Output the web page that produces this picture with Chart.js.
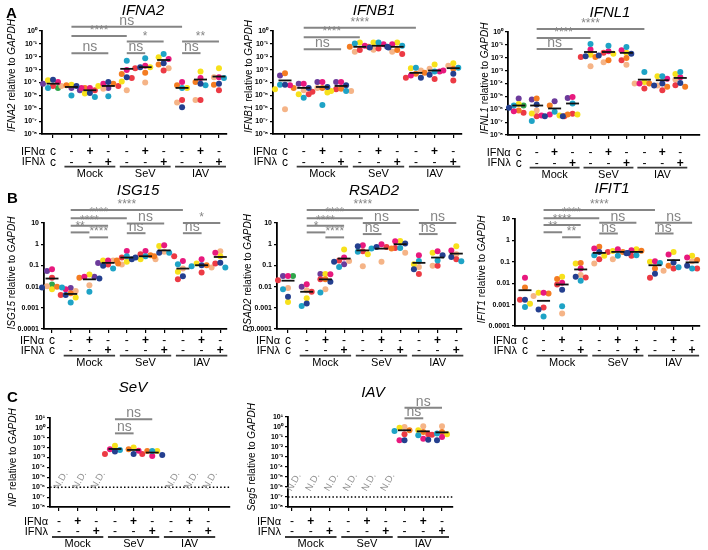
<!DOCTYPE html>
<html>
<head>
<meta charset="utf-8">
<script src="https://cdn.jsdelivr.net/npm/chart.js@4.4.1/dist/chart.umd.min.js"></script>
<style>
  body { margin: 0; background: #fff; width: 708px; height: 550px; position: relative; overflow: hidden; }
  .panel { position: absolute; }
</style>
</head>
<body>
<script>
var N = null;
var FAM = '"Liberation Sans", Arial, sans-serif';

// donors: navy, teal, magenta, orange, yellow, red, peach, purple, green
var donorColors = ['#243f8f', '#1ea3c6', '#e8197e', '#f47c22', '#f7e11b', '#ec3a44', '#f5b487', '#6c3b9b', '#2fa54b'];

// tick labels
var decadeTicks8 = [1, 1e-1, 1e-2, 1e-3, 1e-4, 1e-5, 1e-6, 1e-7, 1e-8];
var decadeLabels8 = ['10⁰', '10⁻¹', '10⁻²', '10⁻³', '10⁻⁴', '10⁻⁵', '10⁻⁶', '10⁻⁷', '10⁻⁸'];
var plainTicks = [10, 1, 0.1, 0.01, 0.001, 0.0001];
var plainLabels = ['10', '1', '0.1', '0.01', '0.001', '0.0001'];
var decadeTicks9 = [10, 1, 1e-1, 1e-2, 1e-3, 1e-4, 1e-5, 1e-6, 1e-7, 1e-8];
var decadeLabels9 = ['10¹', '10⁰', '10⁻¹', '10⁻²', '10⁻³', '10⁻⁴', '10⁻⁵', '10⁻⁶', '10⁻⁷', '10⁻⁸'];

// treatment rows under the axis
var alphaRowAB = ['c', '-', '+', '-', '-', '+', '-', '-', '+', '-'];
var lambdaRowAB = ['c', '-', '-', '+', '-', '-', '+', '-', '-', '+'];
var alphaRowC = ['-', '+', '-', '-', '+', '-', '-', '+', '-'];
var lambdaRowC = ['-', '-', '+', '-', '-', '+', '-', '-', '+'];
var groupsAB = [['Mock', 1, 3], ['SeV', 4, 6], ['IAV', 7, 9]];
var groupsC = [['Mock', 0, 2], ['SeV', 3, 5], ['IAV', 6, 8]];

// values per column, donor order as in donorColors
var ifna2Values = [
  [1.6e-4, 3.8e-5, 1.1e-4, N, 1.5e-4, 5.4e-5, N, 8.1e-5, 3.8e-5],
  [5.4e-5, 1.0e-5, 3.8e-5, 6.0e-5, 6.8e-5, N, 5.4e-5, 3.8e-5, N],
  [1.5e-5, 7.6e-6, 3.8e-5, 3.8e-5, 1.4e-5, 2.5e-5, N, 2.5e-5, N],
  [1.1e-4, 8.7e-6, 8.1e-5, 8.1e-5, 5.4e-5, 5.4e-5, 3.3e-5, 3.8e-5, N],
  [2.6e-4, 5.0e-3, 9.5e-4, 4.5e-4, 1.2e-4, 2.2e-4, 2.5e-5, N, N],
  [1.5e-3, 7.6e-3, 2.0e-3, 5.6e-4, 1.5e-3, 1.3e-3, 1.0e-4, N, N],
  [3.1e-3, 1.6e-2, 6.7e-3, 2.5e-3, 9.0e-3, 8.5e-4, 1.3e-3, N, N],
  [1.2e-6, 3.8e-5, 1.1e-4, 6.0e-5, 3.8e-5, 4.3e-6, 2.8e-6, N, N],
  [8.1e-5, 6.0e-5, 2.2e-4, 1.1e-4, 7.1e-4, 4.3e-6, 4.3e-6, N, N],
  [8.1e-5, 2.2e-4, 2.6e-4, 6.8e-5, 1.3e-3, 2.5e-5, 2.6e-4, N, N]
];
var ifna2Medians = [8.1e-5, 4.5e-5, 2.5e-5, 5.4e-5, 1.15e-3, 1.55e-3, 5.6e-3, 3.8e-5, 1.7e-4, 2.9e-4];
var ifna2Brackets = [[1, 7, 2.1, 'ns'], [1, 4, 0.41, '****'], [4, 6, 0.15, '*'], [7, 9, 0.15, '**'],
  [1, 3, 0.019, 'ns'], [4, 5, 0.019, 'ns'], [7, 8, 0.019, 'ns']];

var ifnb1Values = [
  [6.8e-5, 6.8e-5, 6.0e-5, 5.3e-4, 3.0e-5, N, 8.2e-7, 3.5e-4, N],
  [3.8e-5, 6.4e-6, 8.1e-5, 3.8e-5, 1.2e-5, 1.2e-5, 2.5e-5, 8.1e-5, N],
  [4.5e-5, 1.8e-6, 1.1e-4, 3.8e-5, 1.7e-5, 1.9e-5, 3.8e-5, 1.1e-4, N],
  [6.0e-5, 2.2e-5, 1.1e-4, 3.3e-5, 2.2e-5, 3.0e-5, 2.2e-5, 1.1e-4, N],
  [0.053, 0.107, 0.071, 0.059, 0.126, 0.033, 0.025, N, N],
  [0.053, 0.126, 0.095, 0.059, 0.126, 0.044, 0.035, N, N],
  [0.059, 0.071, 0.095, 0.033, 0.126, 0.016, 0.025, N, N],
  [2.3e-4, 1.4e-3, 3.5e-4, 4.7e-4, 1.3e-3, 2.3e-4, 8.5e-4, N, N],
  [4.0e-4, 7.1e-4, 7.1e-4, 5.6e-4, 2.5e-3, 1.9e-4, 1.15e-3, N, N],
  [4.7e-4, 1.4e-3, 8.5e-4, 1.15e-3, 3.1e-3, 1.45e-4, 2.0e-3, N, N]
];
var ifnb1Medians = [1.45e-4, 3.8e-5, 4.5e-5, 5.4e-5, 0.059, 0.071, 0.059, 5.6e-4, 8.5e-4, 1.3e-3];
var ifnb1Brackets = [[1, 7, 1.8, '****'], [1, 4, 0.32, '****'], [1, 3, 0.038, 'ns']];

var ifnl1Values = [
  [1.3e-6, 1.95e-6, 7.1e-7, 8.0e-7, 2.6e-6, 5.3e-7, N, 6.8e-6, 1.95e-6],
  [2.3e-6, 1.2e-7, 3.3e-7, 6.8e-6, 4.7e-7, 2.9e-7, 8.0e-7, 5.7e-6, N],
  [2.9e-7, 6.3e-7, 3.9e-7, 1.95e-6, 3.3e-7, 2.9e-7, N, 4.2e-6, N],
  [2.9e-7, 2.8e-6, 9.1e-6, 3.9e-7, 3.9e-7, 4.4e-7, N, 7.6e-6, N],
  [0.013, 0.117, 0.043, 0.0115, 0.017, 0.0115, 2.2e-3, N, N],
  [0.015, 0.087, 0.032, 6.3e-3, 0.02, 0.024, 4.5e-3, N, N],
  [0.02, 0.069, 0.038, 9.6e-3, 0.024, 6.3e-3, 2.9e-3, N, N],
  [6.9e-5, 7.9e-4, 1.0e-4, 1.0e-4, 1.3e-4, 4.1e-5, 1.0e-4, N, N],
  [1.0e-4, 3.7e-4, 2.3e-4, 5.5e-5, 3.7e-4, 3.0e-5, 6.9e-5, N, N],
  [1.1e-4, 7.9e-4, 3.1e-4, 5.5e-5, 5.5e-4, 7.4e-5, 2.0e-4, N, N]
];
var ifnl1Medians = [1.95e-6, 1.95e-6, 1.15e-6, 2.8e-6, 0.028, 0.028, 0.024, 2.0e-4, 1.8e-4, 2.7e-4];
var ifnl1Brackets = [[1, 7, 1.7, '****'], [1, 4, 0.34, '****'], [1, 3, 0.048, 'ns']];

var isg15Values = [
  [9.1e-3, 9.1e-3, 0.065, 9.8e-3, 7.6e-3, 0.026, 0.0105, 0.055, 0.0126],
  [4.0e-3, 1.8e-3, 7.6e-3, 4.8e-3, 3.1e-3, 4.0e-3, 6.2e-3, 8.7e-3, N],
  [0.024, 5.7e-3, 0.029, 0.026, 0.037, N, 0.0117, 0.029, N],
  [0.095, 0.071, 0.17, 0.123, 0.17, 0.11, 0.17, 0.13, N],
  [0.195, 0.27, 0.48, 0.17, 0.147, 0.235, 0.11, N, N],
  [0.235, 0.27, 0.48, 0.3, 0.195, 0.34, 0.195, N, N],
  [0.39, 0.39, 0.89, 0.27, 0.83, 0.27, 0.44, N, N],
  [0.031, 0.114, 0.162, N, 0.05, 0.022, 0.071, N, N],
  [0.102, 0.091, 0.195, 0.102, 0.123, 0.046, 0.079, N, N],
  [0.132, 0.079, 0.4, N, 0.27, 0.123, 0.47, N, N]
];
var isg15Medians = [0.024, 4.5e-3, 0.022, 0.132, 0.235, 0.27, 0.51, 0.071, 0.102, 0.25];
var isg15Brackets = [[1, 7, 41, '****'], [1, 4, 16.6, '****'], [1, 3, 7.4, '****'], [1, 2, 3.6, '**'],
  [2, 3, 2.1, '****'], [4, 6, 9.6, 'ns'], [4, 5, 3.3, 'ns'], [7, 9, 10, '*'], [7, 8, 3.3, 'ns']];

var rsad2Values = [
  [3.3e-3, 7.4e-3, 0.032, N, 1.9e-3, 0.02, 8.7e-3, 0.032, 0.032],
  [1.6e-3, 1.2e-3, 0.013, N, 2.8e-3, 5.7e-3, 6.7e-3, 9.8e-3, N],
  [0.017, 5.2e-3, 0.038, 0.022, 0.039, 0.022, 7.4e-3, 0.039, N],
  [0.147, 0.085, 0.235, N, 0.56, 0.17, 0.162, 0.114, N],
  [0.8, 0.44, 0.89, N, 0.34, 0.47, 0.091, N, N],
  [0.74, 0.62, 1.0, 0.62, N, 0.74, 0.147, N, N],
  [1.07, 0.66, 1.38, N, 1.42, 0.66, 0.39, N, N],
  [0.065, 0.162, 0.3, N, 0.114, 0.039, 0.085, N, N],
  [0.3, 0.17, 0.47, N, 0.39, 0.095, 0.095, N, N],
  [0.25, 0.158, 0.51, N, 0.8, 0.195, 0.34, N, N]
];
var rsad2Medians = [0.019, 5.7e-3, 0.022, 0.21, 0.51, 0.62, 1.0, 0.132, 0.235, 0.36];
var rsad2Brackets = [[1, 7, 41, '****'], [1, 4, 16.6, '****'], [1, 3, 7.4, '****'], [1, 2, 3.6, '*'],
  [2, 3, 2.1, '****'], [4, 6, 10, 'ns'], [4, 5, 3.0, 'ns'], [7, 9, 10, 'ns'], [7, 8, 3.0, 'ns']];

var ifit1Values = [
  [1.7e-3, 7.8e-4, 0.0178, 6.3e-3, 1.1e-3, 1.7e-3, N, N, N],
  [5.9e-4, 2.8e-4, 3.6e-3, 3.3e-3, 3.6e-3, 7.3e-4, 2.5e-3, N, N],
  [5.0e-3, 8.3e-4, 0.0105, 0.0158, 0.02, 8.7e-3, 3.8e-4, N, N],
  [0.02, 0.013, 0.049, 0.089, 0.083, 0.0185, 0.024, N, N],
  [0.29, 0.2, 0.42, 0.5, 0.19, 0.133, 0.083, N, N],
  [0.26, 0.19, 0.39, 0.29, 0.32, 0.29, 0.133, N, N],
  [0.25, 0.2, 0.35, 0.33, 0.39, 0.19, N, N, N],
  [0.028, 0.089, 0.107, 0.049, 0.1, 0.0178, N, N, N],
  [0.094, 0.055, 0.22, 0.065, 0.29, 0.049, 0.038, N, N],
  [0.065, 0.049, 0.158, 0.12, 0.19, 0.049, 0.107, N, N]
];
var ifit1Medians = [4.7e-3, 1.5e-3, 8.7e-3, 0.044, 0.26, 0.29, 0.29, 0.069, 0.12, 0.094];
var ifit1Brackets = [[1, 7, 26, '****'], [1, 4, 10.8, '****'], [1, 3, 5.2, '****'], [1, 2, 2.4, '**'],
  [2, 3, 1.4, '**'], [4, 6, 6.7, 'ns'], [4, 5, 2.1, 'ns'], [7, 9, 6.7, 'ns'], [7, 8, 2.1, 'ns']];

var npValues = [
  [N, N, N, N, N, N, N, N, N],
  [N, N, N, N, N, N, N, N, N],
  [N, N, N, N, N, N, N, N, N],
  [4.0e-3, 5.9e-3, 6.9e-3, N, 0.016, 2.3e-3, N, N, N],
  [2.3e-3, N, 5.0e-3, 6.9e-3, 0.0102, N, N, N, N],
  [1.8e-3, 4.7e-3, 1.45e-3, 4.7e-3, 4.7e-3, 2.3e-3, N, N, N],
  [N, N, N, N, N, N, N, N, N],
  [N, N, N, N, N, N, N, N, N],
  [N, N, N, N, N, N, N, N, N]
];
var npMedians = [N, N, N, 7.4e-3, 5.9e-3, 3.2e-3, N, N, N];
var npBrackets = [[3, 5, 7.4, 'ns'], [3, 4, 0.28, 'ns']];
var npNotDetected = [0, 1, 2, 6, 7, 8];

var seg5Values = [
  [N, N, N, N, N, N, N, N, N],
  [N, N, N, N, N, N, N, N, N],
  [N, N, N, N, N, N, N, N, N],
  [N, N, N, N, N, N, N, N, N],
  [N, N, N, N, N, N, N, N, N],
  [N, N, N, N, N, N, N, N, N],
  [0.047, 0.4, 0.047, 0.47, 0.85, 0.19, 1.0, N, N],
  [0.054, 0.148, 0.068, 0.32, 0.47, 0.19, 1.17, N, N],
  [0.047, 0.22, 0.1, 0.32, 0.19, 0.17, 1.17, N, N]
];
var seg5Medians = [N, N, N, N, N, N, 0.47, 0.37, 0.29];
var seg5Brackets = [[6, 8, 85, 'ns'], [6, 7, 7.4, 'ns']];
var seg5NotDetected = [0, 1, 2, 3, 4, 5];

// panel layout (page pixels)
var panels = [
  { box: [0, 0, 236, 180], axisX: 42, top: 31, bottom: 134, right: 227, c0: 53, step: 18.44,
    title: 'IFNA2', titleX: 143, titleY: 15, gene: 'IFNA2', yTitleX: 12, yTitleShift: -7, letter: ['A', 6, 18],
    values: ifna2Values, medians: ifna2Medians, brackets: ifna2Brackets,
    ticks: decadeTicks8, labels: decadeLabels8, rows: [alphaRowAB, lambdaRowAB], groups: groupsAB, rowOff: [17.7, 28.3, 32.7, 40] },
  { box: [236, 0, 236, 180], axisX: 273, top: 31, bottom: 134, right: 462, c0: 285, step: 18.7,
    title: 'IFNB1', titleX: 374, titleY: 15, gene: 'IFNB1', yTitleX: 249, yTitleShift: -6,
    values: ifnb1Values, medians: ifnb1Medians, brackets: ifnb1Brackets,
    ticks: decadeTicks8, labels: decadeLabels8, rows: [alphaRowAB, lambdaRowAB], groups: groupsAB, rowOff: [17.7, 28.3, 32.7, 40] },
  { box: [472, 0, 236, 180], axisX: 508, top: 32, bottom: 135, right: 705, c0: 519, step: 18.45,
    title: 'IFNL1', titleX: 610, titleY: 17, gene: 'IFNL1', yTitleX: 485, yTitleShift: -5,
    values: ifnl1Values, medians: ifnl1Medians, brackets: ifnl1Brackets,
    ticks: decadeTicks8, labels: decadeLabels8, rows: [alphaRowAB, lambdaRowAB], groups: groupsAB, rowOff: [17.7, 28.3, 32.7, 40] },
  { box: [0, 180, 236, 190], axisX: 44, top: 223, bottom: 329, right: 227, c0: 52, step: 18.7,
    title: 'ISG15', titleX: 138, titleY: 195, gene: 'ISG15', yTitleX: 12, yTitleShift: -3, letter: ['B', 7, 203],
    values: isg15Values, medians: isg15Medians, brackets: isg15Brackets,
    ticks: plainTicks, labels: plainLabels, rows: [alphaRowAB, lambdaRowAB], groups: groupsAB, rowOff: [11.7, 22, 26.7, 34.3] },
  { box: [236, 180, 236, 190], axisX: 277, top: 223, bottom: 329, right: 462, c0: 288, step: 18.7,
    title: 'RSAD2', titleX: 374, titleY: 195, gene: 'RSAD2', yTitleX: 248, yTitleShift: -3,
    values: rsad2Values, medians: rsad2Medians, brackets: rsad2Brackets,
    ticks: plainTicks, labels: plainLabels, rows: [alphaRowAB, lambdaRowAB], groups: groupsAB, rowOff: [11.7, 22, 26.7, 34.3] },
  { box: [472, 180, 236, 190], axisX: 515, top: 219, bottom: 326, right: 700, c0: 525, step: 18.6,
    title: 'IFIT1', titleX: 612, titleY: 193, gene: 'IFIT1', yTitleX: 482, yTitleShift: -3,
    values: ifit1Values, medians: ifit1Medians, brackets: ifit1Brackets,
    ticks: plainTicks, labels: plainLabels, rows: [alphaRowAB, lambdaRowAB], groups: groupsAB, rowOff: [14.7, 25, 29.7, 37.3] },
  { box: [0, 370, 240, 180], axisX: 50, top: 418, bottom: 507, right: 230, c0: 59, step: 18.65,
    title: 'SeV', titleX: 133, titleY: 392, gene: 'NP', yTitleX: 13, yTitleShift: -5, letter: ['C', 7, 402],
    values: npValues, medians: npMedians, brackets: npBrackets, nd: npNotDetected, lod: 1e-6, ndAt: 5e-6,
    ticks: decadeTicks9, labels: decadeLabels9, rows: [alphaRowC, lambdaRowC], groups: groupsC, rowOff: [15, 25, 30, 36.6] },
  { box: [240, 370, 240, 180], axisX: 288, top: 417, bottom: 507, right: 453, c0: 292, step: 18.75,
    title: 'IAV', titleX: 373, titleY: 397, gene: 'Seg5', yTitleX: 252, yTitleShift: -5,
    values: seg5Values, medians: seg5Medians, brackets: seg5Brackets, nd: seg5NotDetected, lod: 1e-7, ndAt: 3e-6,
    ticks: decadeTicks9, labels: decadeLabels9, rows: [alphaRowC, lambdaRowC], groups: groupsC, rowOff: [15, 25, 30, 36.6] }
];

var swarmSlots = [0, -5, 5, -10, 10, -2.5, 2.5, -7.5, 7.5, -12.5, 12.5];

// annotations: titles, axis title, brackets, treatment table
var decor = {
  id: 'decor',
  afterDraw: function(chart, args, o) {
    var ctx = chart.ctx, xs = chart.scales.x, ys = chart.scales.y, a = chart.chartArea;
    var ox = o.box[0], oy = o.box[1];
    var X = function(c) { return xs.getPixelForValue(c); };
    var Y = function(v) { return ys.getPixelForValue(v); };
    ctx.save();
    ctx.fillStyle = '#000';
    ctx.textBaseline = 'alphabetic';

    if (o.letter) {
      ctx.font = 'bold 15px ' + FAM;
      ctx.textAlign = 'left';
      ctx.fillText(o.letter[0], o.letter[1] - ox, o.letter[2] - oy);
    }
    ctx.font = 'italic 15px ' + FAM;
    ctx.textAlign = 'center';
    ctx.fillText(o.title, o.titleX - ox, o.titleY - oy);

    // y axis title with italic gene names
    var parts = [[o.gene, true], [' relative to ', false], ['GAPDH', true]];
    ctx.save();
    ctx.translate(o.yTitleX - ox, (a.top + a.bottom) / 2 + o.yTitleShift);
    ctx.rotate(-Math.PI / 2);
    ctx.textBaseline = 'middle';
    ctx.textAlign = 'left';
    var w = 0;
    parts.forEach(function(q) { ctx.font = (q[1] ? 'italic ' : '') + '10px ' + FAM; w += ctx.measureText(q[0]).width; });
    var cx = -w / 2;
    parts.forEach(function(q) {
      ctx.font = (q[1] ? 'italic ' : '') + '10px ' + FAM;
      ctx.fillText(q[0], cx, 0);
      cx += ctx.measureText(q[0]).width;
    });
    ctx.restore();

    // detection limit and N.D.
    if (o.lod) {
      ctx.save();
      ctx.setLineDash([1.5, 2.2]);
      ctx.lineWidth = 1.4;
      ctx.strokeStyle = '#000';
      ctx.beginPath();
      ctx.moveTo(a.left, Y(o.lod));
      ctx.lineTo(a.right, Y(o.lod));
      ctx.stroke();
      ctx.restore();
      ctx.save();
      ctx.font = '9.5px ' + FAM;
      ctx.fillStyle = '#8f8f8f';
      o.nd.forEach(function(c) {
        ctx.save();
        ctx.translate(X(c) + 2, Y(o.ndAt));
        ctx.rotate(-Math.PI / 3);
        ctx.textAlign = 'center';
        ctx.textBaseline = 'middle';
        ctx.fillText('N.D.', 0, 0);
        ctx.restore();
      });
      ctx.restore();
    }

    // significance brackets
    ctx.strokeStyle = '#858585';
    ctx.fillStyle = '#858585';
    ctx.lineWidth = 2;
    ctx.textAlign = 'center';
    o.brackets.forEach(function(b) {
      var x1 = X(b[0]), x2 = X(b[1]), y = Y(b[2]);
      ctx.beginPath();
      ctx.moveTo(x1, y);
      ctx.lineTo(x2, y);
      ctx.stroke();
      ctx.font = (b[3] === 'ns' ? '14px ' : '12px ') + FAM;
      ctx.fillText(b[3], (x1 + x2) / 2, y - 2);
    });

    // treatment table
    var bottom = a.bottom;
    ctx.fillStyle = '#000';
    ctx.textBaseline = 'middle';
    ['IFNα', 'IFNλ'].forEach(function(name, r) {
      var yy = bottom + o.rowOff[r];
      ctx.font = '11px ' + FAM;
      ctx.textAlign = 'right';
      ctx.fillText(name, X(0) - (o.rows[r][0] === 'c' ? 8 : 11), yy);
      ctx.textAlign = 'center';
      o.rows[r].forEach(function(s, c) {
        ctx.font = (s === '+' ? 'bold 12px ' : '12px ') + FAM;
        ctx.fillText(s, X(c), yy);
      });
    });
    ctx.strokeStyle = '#3a3a3a';
    ctx.lineWidth = 1.8;
    o.groups.forEach(function(g) {
      var gy = bottom + o.rowOff[2];
      ctx.beginPath();
      ctx.moveTo(X(g[1]) - 7, gy);
      ctx.lineTo(X(g[2]) + 7, gy);
      ctx.stroke();
      ctx.font = '11px ' + FAM;
      ctx.textAlign = 'center';
      ctx.fillText(g[0], (X(g[1]) + X(g[2])) / 2, bottom + o.rowOff[3]);
    });
    ctx.restore();
  }
};

panels.forEach(function(p) {
  var box = p.box;
  var div = document.createElement('div');
  div.className = 'panel';
  div.style.left = box[0] + 'px';
  div.style.top = box[1] + 'px';
  var cv = document.createElement('canvas');
  cv.width = box[2];
  cv.height = box[3];
  div.appendChild(cv);
  document.body.appendChild(div);

  var hi = Math.log10(p.ticks[0]), lo = Math.log10(p.ticks[p.ticks.length - 1]);
  var decPx = (p.bottom - p.top) / (hi - lo);
  var xmin = -(p.c0 - p.axisX) / p.step;
  var xmax = xmin + (p.right - p.axisX) / p.step;
  var cols = p.values.map(function(v, i) { return i; });

  // spread overlapping dots sideways
  var pts = donorColors.map(function() { return []; });
  p.values.forEach(function(col, c) {
    var items = col.map(function(v, d) { return [v, d]; })
      .filter(function(t) { return t[0] != null; })
      .sort(function(u, v) { return v[0] - u[0]; });
    var placed = [];
    items.forEach(function(t) {
      var py = Math.log10(t[0]) * decPx, off = 0;
      for (var k = 0; k < swarmSlots.length; k++) {
        var cand = swarmSlots[k];
        if (placed.every(function(q) { return Math.hypot(q[0] - cand, q[1] - py) >= 5; })) { off = cand; break; }
      }
      placed.push([off, py]);
      pts[t[1]].push({ x: c + off / p.step, y: t[0] });
    });
  });

  var datasets = [{
    data: p.medians.map(function(m, c) { return m == null ? null : { x: c, y: m }; }).filter(Boolean),
    pointStyle: 'line', pointRadius: 6.5, borderColor: '#111', backgroundColor: '#111', borderWidth: 1.8, order: 0
  }];
  donorColors.forEach(function(col, d) {
    datasets.push({ data: pts[d], backgroundColor: col, borderColor: col, borderWidth: 0, pointRadius: 3, order: 1 });
  });

  new Chart(cv, {
    type: 'scatter',
    data: { datasets: datasets },
    options: {
      responsive: false,
      animation: false,
      events: [],
      clip: false,
      layout: { padding: { left: 0, top: p.top - box[1], right: box[0] + box[2] - p.right, bottom: box[1] + box[3] - p.bottom - 5 } },
      plugins: {
        legend: { display: false },
        tooltip: { enabled: false },
        decor: p
      },
      scales: {
        x: {
          type: 'linear', min: xmin, max: xmax,
          afterBuildTicks: function(s) { s.ticks = cols.map(function(v) { return { value: v }; }); },
          afterFit: function(s) { s.height = 5; },
          ticks: { display: false },
          grid: { drawOnChartArea: false, tickLength: 4, color: '#000', lineWidth: 1.2 },
          border: { color: '#000', width: 1.8 }
        },
        y: {
          type: 'logarithmic', min: p.ticks[p.ticks.length - 1], max: p.ticks[0],
          afterBuildTicks: function(s) { s.ticks = p.ticks.slice().reverse().map(function(v) { return { value: v }; }); },
          afterFit: function(s) { s.width = p.axisX - box[0]; },
          ticks: {
            color: '#000', padding: 2, autoSkip: false, font: { size: 7, weight: 'bold', family: FAM },
            callback: function(v) { return p.labels[p.ticks.indexOf(v)]; }
          },
          grid: { drawOnChartArea: false, tickLength: 3, color: '#000', lineWidth: 1.2 },
          border: { color: '#000', width: 1.8 }
        }
      }
    },
    plugins: [decor]
  });
});
</script>
</body>
</html>
